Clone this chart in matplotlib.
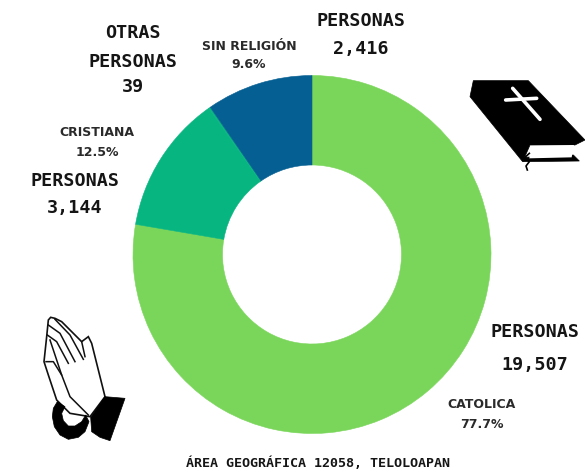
import matplotlib
matplotlib.use('Agg')
import matplotlib.pyplot as plt
from matplotlib.patches import Polygon

W, H = 585, 471

# values, clockwise from the top
religiones = ['CATOLICA', 'CRISTIANA', 'OTRAS', 'SIN RELIGIÓN']
personas = [19507, 3144, 39, 2416]
colores = ['#7AD65A', '#06B57F', '#06B57F', '#055F93']
porcentajes = ['77.7%', '12.5%', '', '9.6%']
titulo = 'ÁREA GEOGRÁFICA 12058, TELOLOAPAN'

MONO = 'DejaVu Sans Mono'
SANS = 'DejaVu Sans'


def zoom_pts(pts, ox, oy):
    """Icon outlines were traced on 3x crops, bring them back to pixels."""
    return [(ox + x / 3, oy + y / 3) for x, y in pts]


def draw_bible(ax):
    ox, oy = 440, 60
    cover = [(100, 62), (265, 62), (435, 240), (405, 255), (270, 255), (248, 305), (90, 110)]
    ax.add_patch(Polygon(zoom_pts(cover, ox, oy), fc='black', ec='black', lw=0.5))
    # pages and back cover
    back = [(250, 292), (400, 285), (418, 303), (250, 305)]
    ax.add_patch(Polygon(zoom_pts(back, ox, oy), fc='black', ec='black', lw=0.5))
    pages = [(272, 258), (402, 255), (395, 292), (268, 295)]
    ax.add_patch(Polygon(zoom_pts(pages, ox, oy), fc='white', ec='none'))
    # cross
    for a, b in [((218, 85), (300, 178)), ((197, 120), (290, 115))]:
        xs, ys = zip(*zoom_pts([a, b], ox, oy))
        ax.plot(xs, ys, color='white', lw=2.6, solid_capstyle='round')
    # ribbon
    xs, ys = zip(*zoom_pts([(268, 280), (255, 292), (268, 305), (258, 318), (262, 330)], ox, oy))
    ax.plot(xs, ys, color='black', lw=1.2)


def draw_hands(ax):
    ox, oy = 20, 300
    hand = [(85, 60), (92, 52), (105, 55), (125, 65), (185, 125), (205, 110), (215, 130),
            (240, 230), (255, 290), (210, 350), (150, 340), (110, 300), (85, 225),
            (72, 185), (80, 110)]
    ax.add_patch(Polygon(zoom_pts(hand, ox, oy), fc='white', ec='#111111', lw=1.2))
    # fingers
    fingers = [
        [(85, 75), (120, 100), (165, 185)],
        [(105, 58), (150, 105), (190, 178)],
        [(82, 105), (110, 125), (145, 190)],
        [(90, 120), (125, 225)],
        [(78, 185), (100, 185), (125, 225), (150, 290), (205, 345)],
        [(185, 125), (195, 170)],
    ]
    for f in fingers:
        xs, ys = zip(*zoom_pts(f, ox, oy))
        ax.plot(xs, ys, color='#111111', lw=1.1)
    # cuffs
    right = [(255, 290), (315, 295), (270, 422), (240, 412), (215, 395), (212, 352)]
    left = [(112, 305), (100, 325), (97, 350), (103, 380), (120, 405), (145, 418), (175, 412),
            (195, 395), (207, 365), (197, 345), (185, 365), (165, 378), (145, 378), (130, 362),
            (125, 340), (135, 320)]
    ax.add_patch(Polygon(zoom_pts(right, ox, oy), fc='black', ec='black', lw=0.5))
    ax.add_patch(Polygon(zoom_pts(left, ox, oy), fc='black', ec='black', lw=0.5))


fig = plt.figure(figsize=(W / 100, H / 100), dpi=100, facecolor='white')

# donut, centre (312, 254.5) radius 179 px
cx, cy, r = 312, 254.5, 179
ax = fig.add_axes([(cx - r) / W, 1 - (cy + r) / H, 2 * r / W, 2 * r / H])
wedges, _ = ax.pie(personas, colors=colores, startangle=90, counterclock=False, radius=1,
                   wedgeprops=dict(width=0.5))
# same colour edge, otherwise the seams between slices show up white
for w, c in zip(wedges, colores):
    w.set_edgecolor(c)
    w.set_linewidth(0.4)
ax.set_xlim(-1, 1)
ax.set_ylim(-1, 1)

# overlay in pixel coordinates for the labels and icons
over = fig.add_axes([0, 0, 1, 1], facecolor='none')
over.set_xlim(0, W)
over.set_ylim(H, 0)
over.axis('off')


def big(x, y, s):
    over.text(x, y, s, ha='center', va='center', family=MONO, weight='bold',
              fontsize=13.2, color='#151515')


def small(x, y, s):
    over.text(x, y, s, ha='center', va='center', family=SANS, weight='bold',
              fontsize=9, color='#2a2a2a')


big(133, 33, religiones[2])
big(133, 62, 'PERSONAS')
big(133, 87, f'{personas[2]:,}')
big(361, 21, 'PERSONAS')
big(361, 49, f'{personas[3]:,}')
big(75, 181, 'PERSONAS')
big(75, 208, f'{personas[1]:,}')
big(535, 332, 'PERSONAS')
big(535, 365, f'{personas[0]:,}')

small(249, 46, religiones[3])
small(249, 65, porcentajes[3])
small(97, 133, religiones[1])
small(97, 153, porcentajes[1])
small(482, 405, religiones[0])
small(482, 424, porcentajes[0])

over.text(318, 463, titulo, ha='center', va='center', family=MONO, weight='bold',
          fontsize=9.6, color='#151515')

draw_bible(over)
draw_hands(over)

fig.savefig('out.png', dpi=100)
